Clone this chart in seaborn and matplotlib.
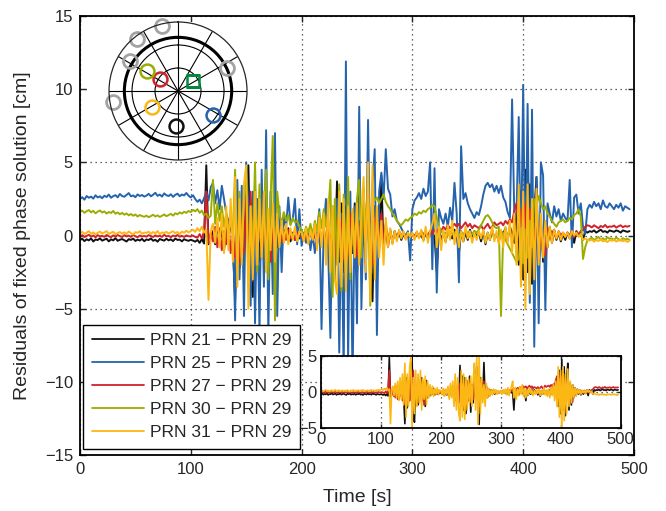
import numpy as np
import pandas as pd
import seaborn as sns
import matplotlib
matplotlib.use('Agg')
import matplotlib.pyplot as plt

# sampling times (s), one value every 2 s
time_s = list(range(0, 497, 2))

# residuals [cm] (20 s per row)
prn21 = [
    -0.30, -0.22, -0.38, -0.26, -0.33, -0.20, -0.41, -0.27, -0.31, -0.19,
    -0.35, -0.28, -0.22, -0.40, -0.26, -0.33, -0.18, -0.36, -0.29, -0.24,
    -0.32, -0.41, -0.25, -0.30, -0.21, -0.37, -0.28, -0.34, -0.23, -0.39,
    -0.27, -0.31, -0.20, -0.36, -0.29, -0.42, -0.24, -0.30, -0.35, -0.22,
    -0.33, -0.26, -0.38, -0.21, -0.30, -0.28, -0.40, -0.25, -0.32, -0.36,
    -0.29, -0.35, -0.42, -0.30, -0.50, -0.25, -0.55, 4.80, -0.60, -0.15,
    0.3, -0.6, 0.8, -0.4, 0.5, -1.0, 0.6, -0.3, 1.2, -0.8,
    -4.4, 2.0, -2.2, 1.5, -1.2, 2.5, 4.8, -2.8, -4.2, 1.0,
    0.8, -1.8, 1.5, -0.6, 2.0, -1.2, 0.5, -2.0, 1.6, -0.8,
    0.6, -0.5, 0.4, -0.2, 0.5, -0.4, 0.2, -0.3, 0.1, -0.2,
    0.1, -0.3, 0.2, -0.2, 0.3, -0.4, 0.2, -0.5, 0.4, -0.3,
    0.6, -0.8, 1.0, -1.2, 0.8, -1.5, 3.7, -1.8, 2.2, -2.5,
    2.0, -3.0, 1.5, -1.2, 2.2, -2.8, 1.0, -1.5, 3.2, -1.0,
    3.5, -1.5, -4.5, 2.0, 1.2, -0.8, 4.1, -1.0, 0.8, -0.6,
    0.4, -0.5, 0.3, -0.2, 0.2, -0.3, 0.1, -0.2, 0.0, -0.1,
    0.1, -0.2, 0.2, -0.1, 0.0, -0.3, 0.2, -0.2, 0.3, -0.1,
    0.0, -2.5, 0.4, -0.3, 0.2, -0.4, 0.3, 0.0, -0.2, 0.4,
    0.1, -1.2, 0.3, -0.4, 0.2, -0.3, 0.4, -0.2, 0.3, -0.1,
    0.2, -0.4, 0.3, -0.6, 0.2, -0.3, 0.4, -0.2, 0.1, -0.4,
    0.3, 0.1, 0.5, -0.3, 0.6, 0.2, -0.5, 1.5, -2.0, 3.0,
    -3.0, 4.5, -2.5, 3.5, -3.3, 1.5, 4.0, -2.5, 1.2, -1.8,
    1.0, -0.8, 0.6, -0.5, 0.4, -0.3, 0.2, -0.4, 0.1, -0.3,
    0.2, -0.2, 0.1, -0.5, 0.3, 0.0, 0.2, -0.3, 0.3, 0.2,
    0.30, 0.25, 0.35, 0.20, 0.30, 0.40, 0.25, 0.30, 0.20, 0.35,
    0.30, 0.25, 0.35, 0.30, 0.20, 0.35, 0.30, 0.25, 0.30,
]

prn25 = [
    2.50, 2.62, 2.45, 2.70, 2.58, 2.66, 2.52, 2.75, 2.60, 2.68,
    2.55, 2.72, 2.63, 2.80, 2.58, 2.69, 2.76, 2.61, 2.84, 2.70,
    2.65, 2.78, 2.90, 2.68, 2.74, 2.62, 2.81, 2.70, 2.77, 2.66,
    2.73, 2.85, 2.68, 2.79, 2.92, 2.71, 2.80, 2.66, 2.88, 2.75,
    2.70, 2.82, 2.64, 2.78, 2.86, 2.69, 2.80, 2.74, 2.91, 2.72,
    2.60, 2.75, 2.50, 2.30, 2.45, 2.20, 2.55, 3.00, 2.40, 3.30,
    3.6, 2.2, 3.1, 1.8, 3.4, 2.5, 1.5, 1.0, 0.6, 0.4,
    -5.8, 3.8, -3.0, 3.4, -5.5, 5.0, 2.0, -4.8, 3.0, -6.0,
    2.5, -6.5, 4.5, -3.5, 7.2, -6.8, 3.0, -4.0, 7.0, -5.5,
    2.0, -2.5, 1.5, 0.5, 2.6, 0.8, 1.1, 2.5, -0.6, 1.8,
    -0.7, 0.2, -0.5, 0.4, -1.0, 0.1, -1.2, 0.3, 1.8, -6.4,
    0.5, 2.5, -1.0, -7.0, 2.0, -3.0, 2.5, -8.0, 1.5, -9.5,
    11.9, -8.5, 3.0, -10.0, 2.0, -6.0, 8.8, -5.0, 2.0, -3.0,
    7.9, -2.0, 3.5, 5.9, -6.8, 3.0, 4.3, 2.5, 5.9, 3.2,
    2.8, 1.3, 1.8, 1.0, 0.8, 0.5, 0.2, 0.0, 0.3, -1.7,
    1.8, 2.4, 2.6, 2.9, 2.5, 3.2, 2.7, 3.0, 5.0, -2.3,
    4.6, -3.9, 1.8, 1.2, 0.8, 1.5, 0.6, 1.9, 1.0, 3.6,
    1.5, -3.2, 6.1, 2.5, 2.9, 2.2, 1.8, 1.5, 1.2, 1.6,
    1.4, 2.0, 2.8, 3.4, 3.6, 3.3, 3.5, 3.0, 3.4, 2.9,
    3.4, 2.6, 2.3, 1.6, 1.2, 9.3, 1.4, 1.5, 8.1, -2.0,
    10.3, -3.0, 9.0, -4.6, 8.6, -7.6, 4.0, -6.0, 5.0, 4.1,
    -5.1, 2.2, 1.5, 0.9, 2.0, 1.3, 1.8, 1.0, 1.5, 1.2,
    1.0, 3.8, -0.8, 2.6, 2.8, 1.5, 2.2, 0.6, 0.1, 1.8,
    2.1, 1.9, 2.3, 2.0, 2.2, 1.8, 2.4, 2.0, 1.9, 2.2,
    2.0, 1.8, 2.1, 1.9, 2.2, 1.7, 2.0, 1.9, 1.8,
]

prn27 = [
    -0.05, 0.02, -0.10, -0.03, 0.05, -0.08, 0.00, -0.12, 0.03, -0.06,
    -0.02, -0.09, 0.04, -0.05, -0.11, 0.01, -0.07, 0.03, -0.04, -0.10,
    0.02, -0.06, -0.01, -0.09, 0.04, -0.05, -0.12, 0.00, -0.07, -0.03,
    -0.08, 0.03, -0.04, -0.10, 0.01, -0.06, -0.02, -0.09, 0.05, -0.05,
    -0.03, -0.11, 0.00, -0.06, 0.04, -0.08, -0.02, -0.10, 0.01, -0.05,
    -0.06, 0.00, -0.10, -0.15, 0.10, -0.20, 0.30, 3.00, -0.50, 0.20,
    -0.4, 0.6, -0.8, 0.5, -1.0, 0.3, -0.6, 0.8, -1.2, 0.4,
    -1.5, 0.8, -1.8, 1.0, -1.2, 2.5, -1.6, 3.0, -1.4, 0.6,
    -1.0, 1.2, -1.5, 0.8, -0.6, 1.5, -1.8, 0.5, -0.9, 0.6,
    0.3, -0.4, 0.2, -0.3, 0.4, -0.2, 0.1, -0.3, 0.2, -0.1,
    0.0, -0.3, 0.2, -0.5, 0.3, -0.2, 0.1, -0.6, 0.2, -0.3,
    0.4, -0.8, 0.6, -1.2, 0.9, -1.5, 1.2, -0.8, 1.0, -1.6,
    0.8, -1.2, 1.5, -0.6, 0.9, -1.4, 0.6, -1.0, 1.2, -0.5,
    2.0, -1.0, -2.0, 1.2, 0.5, -0.6, 1.5, -0.4, 0.6, -0.8,
    0.3, -0.4, 0.2, -0.1, 0.3, 0.0, 0.2, -0.2, 0.1, 0.0,
    0.1, 0.0, 0.2, -0.1, 0.3, 0.1, 0.2, 0.0, 0.3, 0.1,
    0.4, 0.2, 0.5, 0.3, 0.6, 0.4, 0.7, 0.5, 0.6, 0.8,
    0.6, 0.8, 0.5, 0.7, 0.9, 0.6, 0.8, 0.5, 0.7, 0.6,
    0.5, 0.7, 0.4, 0.6, 0.8, 0.5, 0.6, 0.9, 0.7, 0.8,
    0.9, 0.7, 1.0, 0.8, 1.1, 0.9, 1.7, 2.2, 0.5, 1.8,
    -0.8, 2.2, -1.5, 1.8, 0.5, -1.0, 1.5, -1.8, 0.8, -1.2,
    -1.4, 0.5, -0.2, 0.3, 0.1, -0.2, 0.3, 0.0, 0.2, -0.1,
    0.2, 0.0, 0.3, -0.1, 0.2, 0.1, 0.3, 0.4, 0.6, 0.7,
    0.65, 0.55, 0.70, 0.60, 0.50, 0.65, 0.58, 0.72, 0.55, 0.62,
    0.60, 0.68, 0.54, 0.63, 0.70, 0.57, 0.65, 0.60, 0.66,
]

prn30 = [
    1.62, 1.70, 1.55, 1.66, 1.74, 1.58, 1.69, 1.52, 1.63, 1.71,
    1.57, 1.65, 1.50, 1.61, 1.54, 1.68, 1.49, 1.58, 1.45, 1.55,
    1.42, 1.51, 1.38, 1.47, 1.35, 1.44, 1.30, 1.40, 1.33, 1.28,
    1.36, 1.25, 1.33, 1.42, 1.30, 1.38, 1.27, 1.35, 1.44, 1.32,
    1.40, 1.48, 1.36, 1.52, 1.45, 1.58, 1.50, 1.62, 1.55, 1.68,
    1.60, 1.75, 1.65, 1.80, 1.55, 1.70, 1.40, 1.50, 1.20, 1.35,
    3.8, 0.8, 2.2, 1.0, 2.0, 0.6, 1.5, 0.4, 1.0, 0.3,
    4.5, -2.4, 3.0, -1.5, 2.5, 4.7, -3.5, 2.0, -1.0, 5.0,
    -2.5, 3.5, -1.5, 2.0, 4.5, -3.0, 2.5, 6.8, -5.8, 3.0,
    1.5, 0.8, 1.6, 1.0, 1.4, 0.7, 1.2, 0.9, 1.0, 0.6,
    0.4, -0.1, 0.6, 0.2, 0.8, 0.0, 1.0, 0.3, 1.6, 0.5,
    1.8, 0.6, 1.5, 3.8, -4.2, 2.5, -2.0, 3.5, -3.8, 2.8,
    -2.5, 4.0, -3.0, 1.5, -1.0, 2.5, 3.8, -1.5, 2.8, 0.5,
    2.5, -4.8, 2.8, 2.4, 2.6, 2.2, 2.5, 2.8, 2.3, 2.0,
    1.8, 1.5, 1.3, 1.0, 0.8, 0.7, 0.9, 1.1, 1.0, 1.2,
    1.3, 1.5, 1.4, 1.6, 1.5, 1.7, 1.6, 1.8, 1.9, 2.1,
    2.0, 1.2, 0.6, 0.3, 0.1, 0.2, 0.0, 0.3, 0.1, 0.2,
    0.3, 0.0, 0.2, 0.1, 0.3, 0.2, 0.0, 0.1, 0.3, 0.2,
    0.4, 0.7, 1.0, 1.3, 1.4, 1.2, 0.9, 0.6, 0.5, 0.6,
    -5.5, 0.2, -0.3, -0.6, -0.9, -1.2, -1.5, -1.8, -1.6, 0.5,
    -1.9, 0.4, -1.5, 1.0, -0.8, 2.5, 2.0, 2.7, 2.2, 1.8,
    2.0, 1.5, 1.3, 1.0, 0.8, 0.6, 0.9, 1.0, 1.1, 0.9,
    1.0, 1.2, 1.1, 1.4, 1.5, 1.8, 1.3, -1.6, -0.8, -0.3,
    -0.25, -0.15, -0.30, -0.20, -0.10, -0.28, -0.18, -0.32, -0.12, -0.22,
    -0.20, -0.30, -0.14, -0.25, -0.35, -0.18, -0.27, -0.22, -0.30,
]

prn31 = [
    0.15, 0.25, 0.10, 0.20, 0.30, 0.12, 0.22, 0.08, 0.18, 0.27,
    0.14, 0.21, 0.30, 0.11, 0.19, 0.26, 0.09, 0.17, 0.24, 0.13,
    0.22, 0.10, 0.28, 0.16, 0.07, 0.23, 0.19, 0.29, 0.12, 0.20,
    0.18, 0.26, 0.11, 0.24, 0.15, 0.31, 0.09, 0.21, 0.17, 0.25,
    0.13, 0.22, 0.29, 0.16, 0.24, 0.10, 0.27, 0.19, 0.33, 0.21,
    0.30, 0.40, 0.25, 0.50, 0.30, 0.60, 0.20, 0.40, -4.40, 0.30,
    0.8, -0.5, 1.2, -0.8, 1.5, -1.2, 2.0, -1.0, 2.5, -1.8,
    4.0, -3.5, 2.5, -2.0, 3.5, 4.8, -5.0, 2.0, -3.0, 3.0,
    -2.0, 2.5, -1.5, 3.0, -2.5, 1.8, -1.0, 2.2, -1.8, 1.5,
    -0.8, 1.0, -0.5, 0.8, -0.6, 0.5, -0.3, 0.6, -0.4, 0.3,
    0.2, -0.4, 0.5, -0.6, 0.4, -0.3, 0.8, -1.0, 1.2, -0.8,
    1.5, -2.0, 2.5, -2.5, 2.0, -3.0, -4.0, 3.0, -3.5, 2.5,
    -3.8, 2.0, -2.5, 1.8, -1.5, 2.2, -2.0, 1.5, 4.0, -2.5,
    5.0, -4.5, 4.8, -3.0, 2.0, -1.5, 1.0, -2.0, 1.2, -0.8,
    0.5, -0.6, 0.3, -0.4, 0.4, -0.2, 0.3, -0.3, 0.2, -0.1,
    0.2, -0.3, 0.3, -0.2, 0.4, -0.4, 0.6, -0.5, 0.3, 0.8,
    1.5, -0.8, 0.6, -1.0, 0.4, -0.5, 0.7, -0.3, 1.0, -0.6,
    0.5, -0.8, 0.3, -0.4, 0.6, -0.2, 0.3, -0.5, 0.2, -0.3,
    0.3, -0.2, 0.4, -0.5, 0.2, -0.3, 0.6, -0.4, 0.3, -0.6,
    0.4, -0.8, 0.6, -0.5, 1.0, -1.2, 1.5, -2.0, 3.5, -3.5,
    3.0, -5.0, 3.5, -4.0, 2.5, -3.0, 3.2, -2.0, 1.5, -1.5,
    1.0, -0.8, 0.6, -0.5, 0.4, -0.2, 0.3, -0.3, 0.2, -0.1,
    0.2, -0.2, 0.3, 0.0, 0.2, -0.1, 0.1, -0.3, -0.2, -0.3,
    -0.35, -0.28, -0.42, -0.30, -0.38, -0.25, -0.40, -0.33, -0.45, -0.31,
    -0.36, -0.29, -0.41, -0.34, -0.27, -0.39, -0.32, -0.44, -0.35,
]

pairs = ['PRN 21 − PRN 29', 'PRN 25 − PRN 29', 'PRN 27 − PRN 29',
         'PRN 30 − PRN 29', 'PRN 31 − PRN 29']
pair_colors = ['#111111', '#2563ad', '#d1222b', '#9aad00', '#fbb714']
inset_pairs = ['PRN 21 − PRN 29', 'PRN 27 − PRN 29', 'PRN 31 − PRN 29']

# skyplot: azimuth [deg], elevation [deg]
used_az = [183, 124, 304, 303, 238]
used_el = [44, 35, 62, 42, 50]
ref_az, ref_el = 56, 66
other_az = [346, 322, 302, 260, 65]
other_el = [3, 4, 16, 4, 19]

sns.set_style('ticks')
plt.rcParams['font.family'] = ['Liberation Sans', 'DejaVu Sans']

df = pd.concat([
    pd.DataFrame({'t': time_s, 'res': vals, 'pair': name})
    for name, vals in zip(pairs, [prn21, prn25, prn27, prn30, prn31])
], ignore_index=True)

fig = plt.figure(figsize=(6.66, 5.11), dpi=100)

# main axes
ax = fig.add_axes([0.1201, 0.1096, 0.8318, 0.859])
sns.lineplot(data=df, x='t', y='res', hue='pair', hue_order=pairs,
             palette=pair_colors, estimator=None, errorbar=None,
             linewidth=1.4, ax=ax, legend=False)
ax.set_xlim(0, 500)
ax.set_ylim(-15, 15)
ax.set_xticks(range(0, 501, 100))
ax.set_yticks(range(-15, 16, 5))
ax.grid(True, color='#333333', linestyle=(0, (1, 3)), linewidth=0.9)
ax.tick_params(direction='in', top=True, right=True, length=4,
               labelsize=12, width=1, pad=5)
for sp in ax.spines.values():
    sp.set_linewidth(1.3)
    sp.set_color('black')
ax.set_xlabel('Time [s]', fontsize=14, labelpad=9)
ax.set_ylabel('Residuals of fixed phase solution [cm]', fontsize=14,
              labelpad=10)

leg = ax.legend(ax.lines[:5], pairs, loc='lower left',
                bbox_to_anchor=(0.006, 0.0137), borderaxespad=0,
                fontsize=12.5, handlelength=3.0, handletextpad=0.35,
                labelspacing=0.45, borderpad=0.5, fancybox=False,
                framealpha=1, edgecolor='black')
leg.get_frame().set_linewidth(1.0)
for ln in leg.get_lines():
    ln.set_linewidth(1.3)

# white backdrop for the skyplot
box = fig.add_axes([87 / 666, 1 - 160 / 511, (260 - 87) / 666, (160 - 22) / 511])
box.set_facecolor('white')
box.set_xticks([])
box.set_yticks([])
for sp in box.spines.values():
    sp.set_visible(False)

# skyplot
pax = fig.add_axes([0.1637, 0.6869, 0.2072, 0.2701], projection='polar')
pax.set_theta_zero_location('N')
pax.set_theta_direction(-1)
pax.set_ylim(0, 90)
pax.set_xticks(np.deg2rad(np.arange(0, 360, 30)))
pax.set_xticklabels([])
pax.set_yticks([30, 60, 70])
pax.set_yticklabels([])
pax.grid(True, color='black', linewidth=0.8, linestyle='-')
pax.yaxis.get_gridlines()[2].set_linewidth(2.2)
pax.spines['polar'].set_linewidth(0.9)
pax.set_facecolor('white')
pax.plot(np.deg2rad(other_az), 90 - np.array(other_el), 'o', ms=10,
         mfc='none', mec='#a3a3a3', mew=2.0, linestyle='none', clip_on=False)
for az, el, c in zip(used_az, used_el, pair_colors):
    pax.plot(np.deg2rad(az), 90 - el, 'o', ms=10, mfc='none', mec=c, mew=1.8)
pax.plot(np.deg2rad(ref_az), 90 - ref_el, 's', ms=9, mfc='none',
         mec='#008a3e', mew=1.8)

# inset with the small residuals
iax = fig.add_axes([0.482, 0.1624, 0.4497, 0.1409])
iax.set_facecolor('white')
sns.lineplot(data=df[df['pair'].isin(inset_pairs)], x='t', y='res',
             hue='pair', hue_order=inset_pairs,
             palette=['#111111', '#d1222b', '#fbb714'], estimator=None,
             errorbar=None, linewidth=1.2, ax=iax, legend=False)
iax.set_xlim(0, 500)
iax.set_ylim(-5, 5)
iax.set_xticks(range(0, 501, 100))
iax.set_yticks([-5, 0, 5])
iax.grid(True, color='#333333', linestyle=(0, (1, 3)), linewidth=0.9)
iax.tick_params(direction='in', top=True, right=True, length=3,
                labelsize=12, width=1, pad=3)
iax.set_xlabel('')
iax.set_ylabel('')
for sp in iax.spines.values():
    sp.set_linewidth(1.3)
    sp.set_color('black')

fig.savefig('out.png', dpi=100)
